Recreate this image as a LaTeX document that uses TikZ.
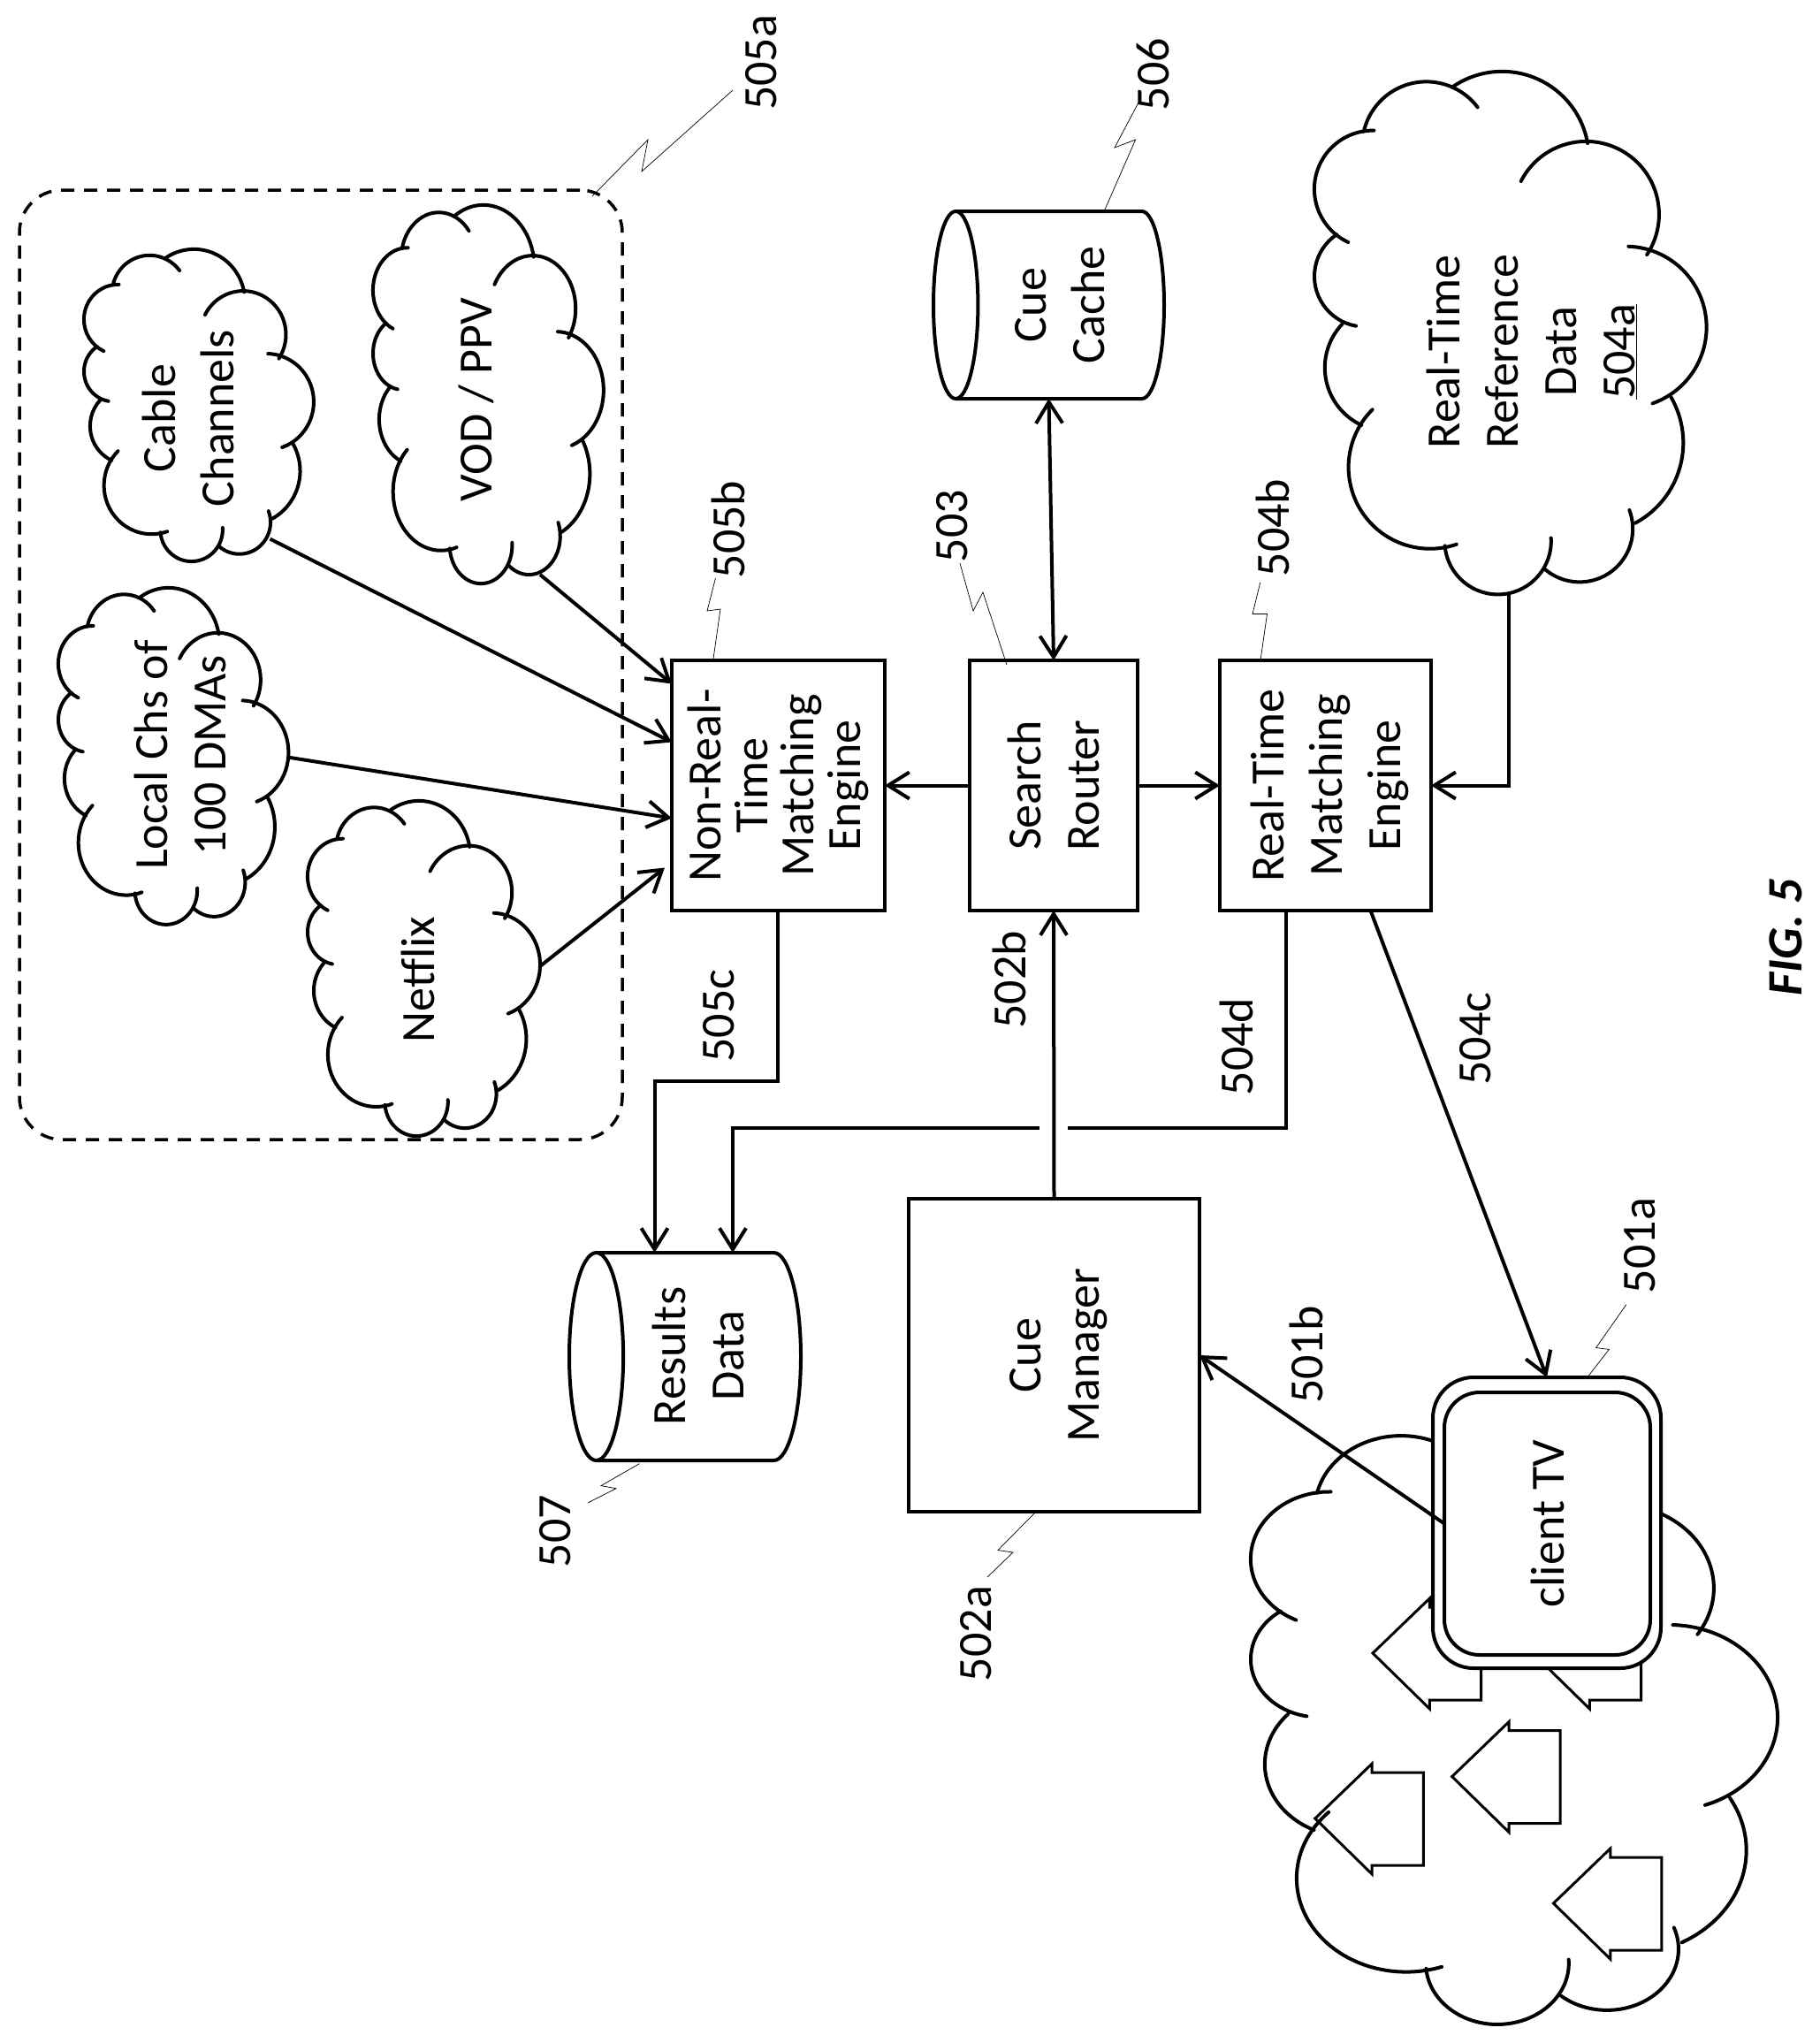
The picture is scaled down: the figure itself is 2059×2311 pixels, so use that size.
\documentclass[tikz,border=0pt]{standalone}
\usepackage{fontspec}
\setmainfont{Carlito}
\usetikzlibrary{arrows.meta,shapes.geometric}
\newcommand{\cloudarc}[5]{%
  \draw[lobe] ({#1+#3*cos(#4)},{#2+#3*sin(#4)}) arc[start angle=#4,end angle=#5,radius=#3];}
\tikzset{
txtrot/.style={
  rotate=90,
  align=center,
  inner sep=0pt,
  outer sep=0pt,
  font=\fontsize{54}{66}\selectfont
  },
boxnode/.style 2 args={
  txtrot,
  rectangle,
  draw=black,
  line width=4pt,
  minimum width=#1,
  minimum height=#2
  },
roundnode/.style 2 args={
  boxnode={#1}{#2},
  fill=white,
  rounded corners=40pt
  },
cannode/.style 2 args={
  txtrot,
  cylinder,
  shape border rotate=90,
  shape aspect=0.6,
  draw=black,
  line width=4pt,
  minimum height=#1,
  minimum width=#2
  },
flow/.style={line width=4pt},
flowarrow/.style={flow,-{Straight Barb[length=24pt,width=30pt]}},
flowboth/.style={flow,{Straight Barb[length=24pt,width=30pt]}-{Straight Barb[length=24pt,width=30pt]}},
leader/.style={line width=0.7pt},
lobe/.style={line width=4pt,line cap=round},
pics/pptcloud/.style={
  code={
    \cloudarc{212.3}{98.1}{98.3}{-10}{-125}
    \cloudarc{126.6}{84}{72.6}{-37}{-167}
    \cloudarc{66.2}{132.9}{66.3}{-89}{-245}
    \cloudarc{57}{231.6}{57}{-124}{-260}
    \cloudarc{83.5}{334.9}{71.7}{-136.5}{-245}
    \cloudarc{130.8}{447.5}{92.2}{-135}{-289}
    \cloudarc{207.6}{531.2}{60.2}{175}{-3.5}
    \cloudarc{300}{517.2}{60.2}{130}{-20.6}
    \cloudarc{314.3}{419.9}{103}{61.8}{-30}
    \cloudarc{352.2}{289.1}{91.4}{70.6}{-88}
    \cloudarc{307.3}{161.5}{82.6}{33.5}{-153}
  }
},
pics/houseicon/.style={
  code={
    \draw[line width=3pt] (0,0) -- (64.4,-62) -- (64.4,-52) -- (122.5,-52)
      -- (122.5,53) -- (64.4,53) -- (64.4,63) -- cycle;
  }
}
}

\begin{document}
\begin{tikzpicture}[x=1pt,y=-1pt]
\useasboundingbox (0,0) rectangle (2059,2311);

% sources
\node[draw=black,line width=3.5pt,dash pattern=on 15pt off 11pt,rounded corners=48pt,
    rectangle,minimum width=682pt,minimum height=1074pt,inner sep=0pt,outer sep=0pt]
    (srcbox) at (363,752) {};
\pic[xscale=0.586,yscale=0.597] at (95,282) {pptcloud};
\pic[xscale=0.587,yscale=0.644] at (66,665) {pptcloud};
\pic[xscale=0.588,yscale=0.724] at (422,232) {pptcloud};
\pic[xscale=0.593,yscale=0.641] at (348,906) {pptcloud};
\pic at (1487,81) {pptcloud};

\node[txtrot] (cable) at (213,473) {Cable\\Channels};
\node[txtrot] (local) at (204,854) {Local Chs of\\100 DMAs};
\node[txtrot] (vod) at (539,452) {VOD / PPV};
\node[txtrot] (netflix) at (473,1108) {Netflix};
\node[txtrot] (refdata) at (1733,398) {Real-Time\\Reference\\Data\\\underline{504a}};

% main boxes
\node[boxnode={283pt}{241pt},font=\fontsize{54}{52.5}\selectfont] (nonreal) at (880.5,888.5) {Non-Real-\\Time\\Matching\\Engine};
\node[boxnode={283pt}{190pt}] (search) at (1192,888.5) {Search\\Router};
\node[boxnode={283pt}{239pt},text depth=0pt] (realtime) at (1499.5,888.5) {Real-Time\\Matching\\Engine};
\node[boxnode={354pt}{329pt},text depth=0pt] (cuemgr) at (1192.5,1533) {Cue\\Manager};
\node[cannode={261pt}{212pt},anchor=shape center] (cache) at (1186.5,345) {\phantom{Cue}};
\node[txtrot] (cachetext) at (1199,345) {Cue\\Cache};
\node[cannode={262pt}{235pt},anchor=shape center] (results) at (775,1534.5) {\phantom{Data}};
\node[txtrot] (resultstext) at (790,1534) {Results\\Data};

% homes and client TV
\pic[xscale=1.3436,yscale=1.148] at (1415,1611) {pptcloud};
\pic at (1553,1870) {houseicon};
\pic at (1734,1870) {houseicon};
\pic at (1642.7,2009.6) {houseicon};
\pic at (1487.8,2057) {houseicon};
\pic at (1757.4,2153) {houseicon};
\node[roundnode={329pt}{258pt},rounded corners=46pt] (tvouter) at (1750,1722.5) {};
\node[roundnode={297pt}{233pt}] (tv) at (1750.5,1723.5) {client TV};

% connectors
\draw[flowarrow] (search.north) -- (nonreal.south);
\draw[flowarrow] (search.south) -- (realtime.north);
\draw[flowarrow] (cuemgr.east) -- (search.west);
\draw[flowarrow] (tv.north) -- (cuemgr.south);

\coordinate(cache-out) at ([yshift=-106pt]cache.shape center);
\draw[flowboth] (cache-out) -- (search.east);

\coordinate(ref-out) at (1707,672);
\draw[flowarrow] (ref-out) |- (realtime.south);

\coordinate(rt-out) at ([xshift=51pt]realtime.west);
\draw[flowarrow] (rt-out) -- (tvouter.east);

\coordinate(nr-out) at ([xshift=-0.5pt]nonreal.west);
\coordinate(nr-mid) at (880,1222.5);
\coordinate(res-in1) at (740.5,1417);
\draw[flowarrow] (nr-out) -- (nr-mid) -| (res-in1);

\coordinate(rt-out2) at ([xshift=-44.5pt]realtime.west);
\coordinate(gap-r) at (1208,1275.5);
\coordinate(gap-l) at (1176,1275.5);
\coordinate(res-in2) at (829,1417);
\draw[flow] (rt-out2) |- (gap-r);
\draw[flowarrow] (gap-l) -| (res-in2);

\coordinate(vod-out) at (611,650);
\coordinate(vod-in) at ([yshift=115pt]nonreal.north);
\draw[flowarrow] (vod-out) -- (vod-in);
\coordinate(cable-out) at (305.5,609.6);
\coordinate(cable-in) at ([yshift=49pt]nonreal.north);
\draw[flowarrow] (cable-out) -- (cable-in);
\coordinate(local-out) at (326.5,856.7);
\coordinate(local-in) at ([yshift=-37pt]nonreal.north);
\draw[flowarrow] (local-out) -- (local-in);
\coordinate(netflix-out) at (611,1093);
\coordinate(netflix-in) at ([xshift=-8pt,yshift=-93pt]nonreal.north);
\draw[flowarrow] (netflix-out) -- (netflix-in);

% reference numerals
\node[txtrot] (n505a) at (861,71) {505a};
\node[txtrot] (n505b) at (824,599) {505b};
\node[txtrot] (n505c) at (813,1149) {505c};
\node[txtrot] (n506) at (1304,84) {506};
\node[txtrot] (n503) at (1077,595) {503};
\node[txtrot] (n504b) at (1440,597) {504b};
\node[txtrot] (n502b) at (1142,1108.5) {502b};
\node[txtrot] (n504d) at (1399,1184) {504d};
\node[txtrot] (n504c) at (1669.5,1175) {504c};
\node[txtrot] (n501b) at (1478,1532.5) {501b};
\node[txtrot] (n501a) at (1855.5,1409) {501a};
\node[txtrot] (n502a) at (1104,1848) {502a};
\node[txtrot] (n507) at (628,1732) {507};
\node[txtrot,font=\fontsize{56}{66}\selectfont\bfseries\itshape] (figlabel) at (2020,1060) {FIG. 5};

% leaders
\coordinate(ld505a-1) at (670,222);
\coordinate(ld505a-2) at (829,102);
\draw[leader] (ld505a-1) -- (733,158) -- (726,194) -- (ld505a-2);
\coordinate(ld505b-1) at (807,745);
\coordinate(ld505b-2) at (809.5,654);
\draw[leader] (ld505b-1) -- (815,689) -- (800,691) -- (ld505b-2);
\coordinate(ld503-1) at (1139,752);
\coordinate(ld503-2) at (1086,637);
\draw[leader] (ld503-1) -- (1112,670) -- (1101,691) -- (ld503-2);
\coordinate(ld504b-1) at (1425.7,749);
\coordinate(ld504b-2) at (1425.7,659);
\draw[leader] (ld504b-1) -- (1433.5,694.5) -- (1417,694.5) -- (ld504b-2);
\coordinate(ld506-1) at (1250,237);
\coordinate(ld506-2) at (1288,116);
\draw[leader] (ld506-1) -- (1284.6,158) -- (1261,167) -- (ld506-2);
\coordinate(ld501a-1) at (1797.5,1555.7);
\coordinate(ld501a-2) at (1839.8,1475.7);
\draw[leader] (ld501a-1) -- (1820.4,1526.4) -- (1805.6,1524.6) -- (ld501a-2);
\coordinate(ld502a-1) at (1170,1712);
\coordinate(ld502a-2) at (1117,1784);
\draw[leader] (ld502a-1) -- (1129,1753.5) -- (1146,1756) -- (ld502a-2);
\coordinate(ld507-1) at (723.5,1655.6);
\coordinate(ld507-2) at (665,1700);
\draw[leader] (ld507-1) -- (680,1680.6) -- (697,1683.7) -- (ld507-2);

\end{tikzpicture}
\end{document}
